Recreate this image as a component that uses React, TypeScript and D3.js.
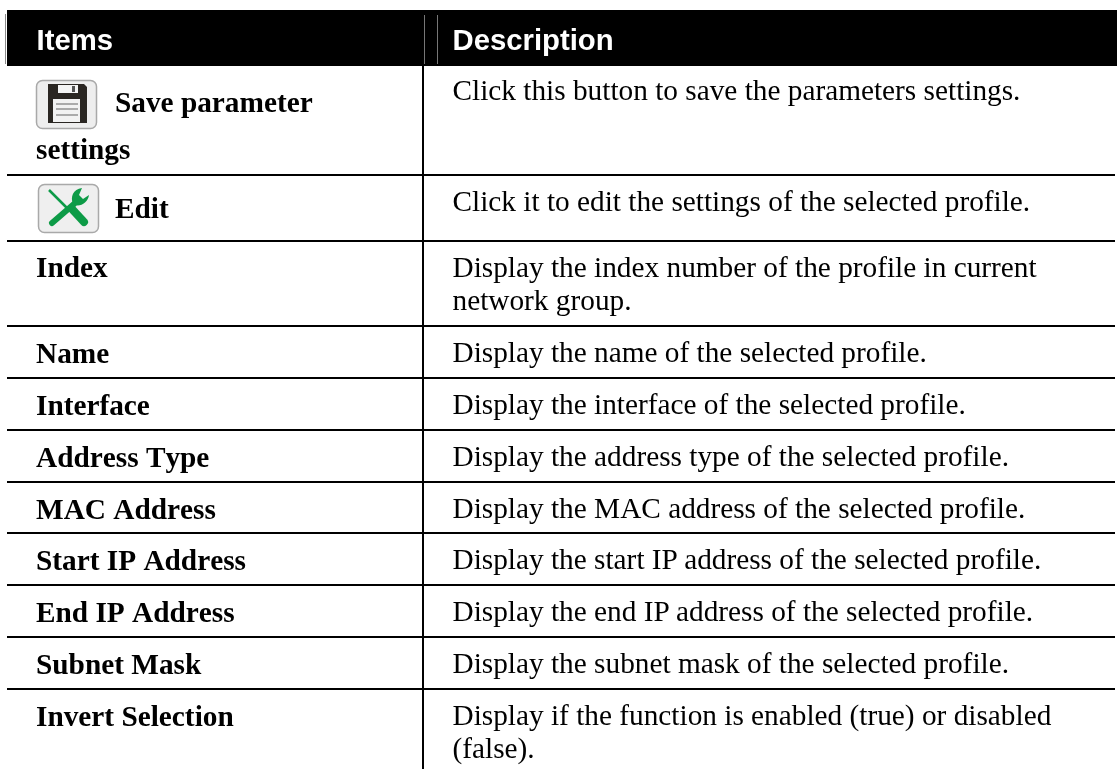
import React, { useEffect, useRef } from "react";
import * as d3 from "d3";

const headers = ["Items", "Description"];
const rowItems = [
  ["Save parameter", "settings"],
  ["Edit"],
  ["Index"],
  ["Name"],
  ["Interface"],
  ["Address Type"],
  ["MAC Address"],
  ["Start IP Address"],
  ["End IP Address"],
  ["Subnet Mask"],
  ["Invert Selection"],
];
const rowDescriptions = [
  ["Click this button to save the parameters settings."],
  ["Click it to edit the settings of the selected profile."],
  ["Display the index number of the profile in current", "network group."],
  ["Display the name of the selected profile."],
  ["Display the interface of the selected profile."],
  ["Display the address type of the selected profile."],
  ["Display the MAC address of the selected profile."],
  ["Display the start IP address of the selected profile."],
  ["Display the end IP address of the selected profile."],
  ["Display the subnet mask of the selected profile."],
  ["Display if the function is enabled (true) or disabled", "(false)."],
];
const rowLines = [66, 175, 241, 326, 378, 430, 482, 533, 585, 637, 689, 769];

const SERIF = "'Liberation Serif', 'Times New Roman', serif";
const SANS = "'Liberation Sans', Arial, sans-serif";
const W = 1117, H = 769;
const FS = 29.3;

function SaveIcon({ x, y }: { x: number; y: number }) {
  return (
    <g transform={`translate(${x},${y})`} filter="url(#soft)">
      <rect x={0.5} y={0.5} width={60} height={48} rx={6} fill="#eeeeee" stroke="#a9a9a9" strokeWidth={1.5} />
      <path d="M12 4 H48 L51 7 V43 H12 Z" fill="#2b2624" />
      <rect x={22} y={5} width={20} height={8} fill="#f4f4f4" />
      <rect x={36} y={6} width={3} height={6} fill="#555" />
      <rect x={17} y={19} width={27} height={23} fill="#f2f2f2" />
      <rect x={20} y={23} width={22} height={2} fill="#aaa" />
      <rect x={20} y={28} width={22} height={2} fill="#aaa" />
      <rect x={20} y={34} width={22} height={2} fill="#aaa" />
    </g>
  );
}

function EditIcon({ x, y }: { x: number; y: number }) {
  return (
    <g transform={`translate(${x},${y})`} filter="url(#soft)">
      <rect x={0.5} y={0.5} width={60} height={48} rx={6} fill="#efefef" stroke="#a9a9a9" strokeWidth={1.5} />
      <path d="M11 6 L30 25" fill="none" stroke="#0f9b47" strokeWidth={2.5} />
      <path d="M34 25 L46 38" fill="none" stroke="#0f9b47" strokeWidth={8} strokeLinecap="round" />
      <path d="M14 39 L36 20" fill="none" stroke="#0f9b47" strokeWidth={6} strokeLinecap="round" />
      <path d="M44 4 C35 5 32 13 35 20 C41 24 50 19 51 11 L45 15 L41 11 Z" fill="#0f9b47" />
    </g>
  );
}

export default function App() {
  const ref = useRef<SVGGElement>(null);
  useEffect(() => {
    const g = d3.select(ref.current);
    g.selectAll("*").remove();
    const left = 7, right = 1115, divider = 423;
    g.append("rect").attr("x", left).attr("y", 10).attr("width", W - left).attr("height", 56).attr("fill", "#000");
    g.append("line").attr("x1", 5.5).attr("x2", 5.5).attr("y1", 14).attr("y2", 64).attr("stroke", "#888").attr("stroke-width", 1);
    [424.5, 437.5].forEach((x) =>
      g.append("line").attr("x1", x).attr("x2", x).attr("y1", 15).attr("y2", 64).attr("stroke", "#777").attr("stroke-width", 1)
    );
    g.append("line").attr("x1", divider).attr("x2", divider).attr("y1", 66).attr("y2", H).attr("stroke", "#000").attr("stroke-width", 2);
    rowLines.slice(1, -1).forEach((y) =>
      g.append("line").attr("x1", left).attr("x2", right).attr("y1", y).attr("y2", y).attr("stroke", "#000").attr("stroke-width", 2)
    );

    const t = g.append("g").attr("filter", "url(#soft)");
    t.append("text").attr("x", 36.5).attr("y", 50).attr("font-family", SANS).attr("font-weight", 700).attr("font-size", FS).attr("fill", "#fff").text(headers[0]);
    t.append("text").attr("x", 452.5).attr("y", 50).attr("font-family", SANS).attr("font-weight", 700).attr("font-size", FS).attr("fill", "#fff").text(headers[1]);

    const itemBase = [
      [112, 159], [218], [277], [0], [0], [0], [0], [0], [0], [0], [0],
    ];
    rowItems.forEach((lines, i) => {
      const top = rowLines[i];
      lines.forEach((s, j) => {
        const by = itemBase[i][j] || top + 36.5;
        const x = (i === 0 && j === 0) || i === 1 ? 115 : 36;
        t.append("text").attr("x", x).attr("y", by).attr("font-family", SERIF).attr("font-weight", 700).attr("font-size", FS).attr("fill", "#000").style("font-kerning", "none").text(s);
      });
    });
    rowDescriptions.forEach((lines, i) => {
      const top = rowLines[i];
      lines.forEach((s, j) => {
        t.append("text").attr("x", 452.5).attr("y", top + (i === 0 ? 34 : 35.5) + j * 33.5).attr("font-family", SERIF).attr("font-size", FS).attr("fill", "#000").text(s);
      });
    });
  }, []);
  return (
    <svg width={W} height={H} style={{ position: "absolute", left: 0, top: 0, background: "#fff" }}>
      <defs>
        <filter id="soft" x="-2%" y="-2%" width="104%" height="104%">
          <feGaussianBlur stdDeviation={0.4} />
        </filter>
      </defs>
      <g ref={ref} />
      <SaveIcon x={36} y={80} />
      <EditIcon x={38} y={184} />
    </svg>
  );
}
